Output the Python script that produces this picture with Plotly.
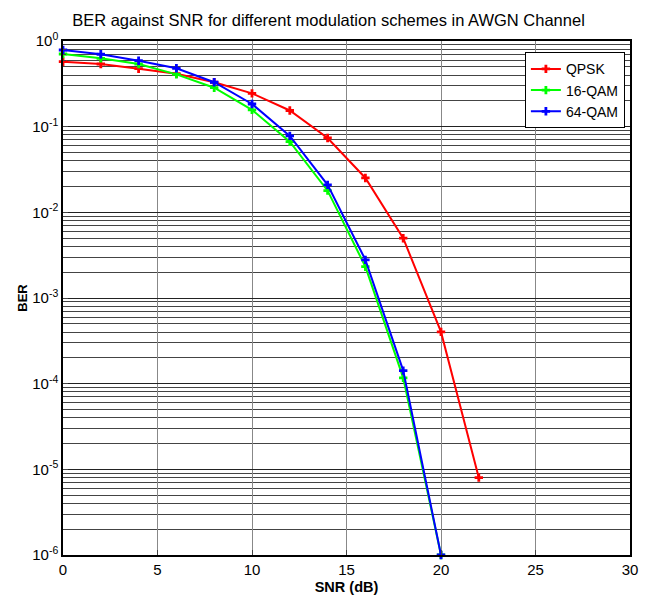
import plotly.graph_objects as go

snr = [0, 2, 4, 6, 8, 10, 12, 14, 16, 18, 20, 22]
ber_qpsk = [0.573, 0.539, 0.475, 0.415, 0.33, 0.245, 0.1545, 0.0738, 0.0252, 0.00499, 0.000402, 8.0e-6]
snr_qam = [0, 2, 4, 6, 8, 10, 12, 14, 16, 18, 20]
ber_16qam = [0.705, 0.628, 0.539, 0.408, 0.285, 0.157, 0.0668, 0.0179, 0.00232, 0.000117, 1e-6]
ber_64qam = [0.785, 0.70, 0.589, 0.48, 0.33, 0.184, 0.078, 0.0209, 0.00279, 0.000142, 1e-6]

x_ticks = [0, 5, 10, 15, 20, 25, 30]
y_tickvals = [1e0, 1e-1, 1e-2, 1e-3, 1e-4, 1e-5, 1e-6]
y_ticktext = ["10<sup>0</sup>", "10<sup>-1</sup>", "10<sup>-2</sup>", "10<sup>-3</sup>",
              "10<sup>-4</sup>", "10<sup>-5</sup>", "10<sup>-6</sup>"]

FONT = "Liberation Sans Narrow, Arial Narrow, Liberation Sans, Arial"

series = [
    ("QPSK", snr, ber_qpsk, "#ff0000"),
    ("16-QAM", snr_qam, ber_16qam, "#00ff00"),
    ("64-QAM", snr_qam, ber_64qam, "#0000ff"),
]

fig = go.Figure()
for name, xs, ys, col in series:
    fig.add_trace(go.Scatter(
        x=xs, y=ys, name=name, mode="lines+markers",
        line=dict(color=col, width=2),
        marker=dict(symbol="cross", size=7, color=col),
        cliponaxis=False,
    ))

fig.update_layout(
    width=641, height=595,
    paper_bgcolor="white", plot_bgcolor="white",
    margin=dict(l=55, r=19, t=33, b=48),
    font=dict(family=FONT, size=14, color="black"),
    title=dict(text="BER against SNR for different modulation schemes in AWGN Channel",
               x=0.5, xanchor="center", y=0.99, yanchor="top",
               font=dict(family=FONT, size=16.5, color="black")),
    showlegend=True,
    legend=dict(x=0.991, y=0.978, xanchor="right", yanchor="top",
                bgcolor="white", bordercolor="black", borderwidth=1,
                font=dict(family=FONT, size=14, color="black"),
                itemwidth=30, tracegroupgap=0),
    xaxis=dict(range=[0, 30], tickvals=x_ticks, ticks="inside", ticklen=5,
               automargin=False,
               showgrid=True, gridcolor="#888888", gridwidth=1,
               showline=True, linecolor="black", linewidth=1.5, mirror=True,
               zeroline=False,
               title=dict(text="<b>SNR (dB)</b>", standoff=5,
                          font=dict(family=FONT, size=14.5)),
               tickfont=dict(family=FONT, size=15)),
    yaxis=dict(type="log", range=[-6, 0], tickvals=y_tickvals, ticktext=y_ticktext,
               ticks="inside", ticklen=5, automargin=False,
               showgrid=True, gridcolor="#222222", gridwidth=1,
               minor=dict(showgrid=True, gridcolor="#444444", gridwidth=1,
                          ticks="inside", ticklen=3, dtick="D1"),
               showline=True, linecolor="black", linewidth=1.5, mirror=True,
               zeroline=False,
               title=dict(text="<b>BER</b>", standoff=2,
                          font=dict(family=FONT, size=13)),
               tickfont=dict(family=FONT, size=15)),
)

fig.write_html("out.html")
